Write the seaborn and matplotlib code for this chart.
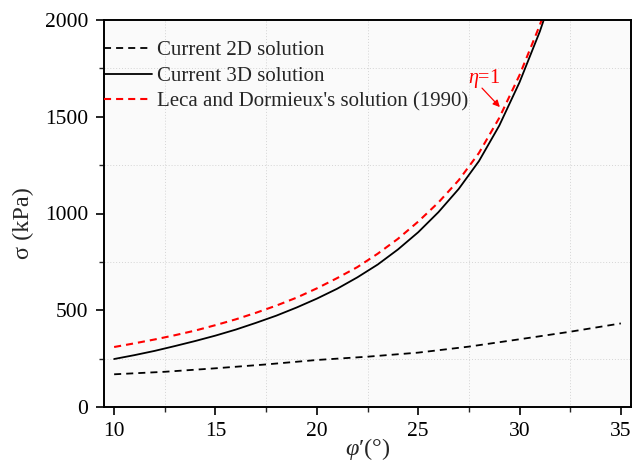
import numpy as np
import pandas as pd
import matplotlib
matplotlib.use("Agg")
import matplotlib.pyplot as plt
import seaborn as sns
from matplotlib.ticker import MultipleLocator

# ---- data ----
phi_2d = [10, 12.5, 15, 17.5, 20, 22.5, 25, 27.5, 30, 32.5, 35]
sig_2d = [169, 182, 200, 220, 243, 260, 281, 312, 350, 389, 432]

phi_3d = [10, 11, 12, 13, 14, 15, 16, 17, 18, 19, 20, 21, 22, 23, 24, 25, 26, 27, 28, 29, 30, 31, 32]
sig_3d = [248, 268, 290, 315, 341, 369, 400, 435, 472, 514, 560, 611, 670, 736, 814, 903, 1007,
          1127, 1271, 1454, 1678, 1940, 2249]

phi_leca = [10, 11, 12, 13, 14, 15, 16, 17, 18, 19, 20, 21, 22, 23, 24, 25, 26, 27, 28, 29, 30, 31, 32]
sig_leca = [310, 329, 349, 371, 395, 423, 453, 487, 524, 565, 613, 666, 723, 792, 869, 958, 1057,
            1172, 1313, 1494, 1715, 1973, 2278]

labels = ["Current 2D solution", "Current 3D solution", "Leca and Dormieux's solution (1990)"]
x_ticks = [10, 15, 20, 25, 30, 35]
y_ticks = [0, 500, 1000, 1500, 2000]

sns.set_style("ticks")
plt.rcParams["font.family"] = ["Liberation Serif", "DejaVu Serif"]
plt.rcParams["mathtext.fontset"] = "custom"
plt.rcParams["mathtext.rm"] = "Liberation Serif"
plt.rcParams["mathtext.it"] = "Liberation Serif:italic"
plt.rcParams["mathtext.bf"] = "Liberation Serif:bold"

fig = plt.figure(figsize=(6.41, 4.62), dpi=100)
ax = fig.add_axes([104 / 641, 1 - 407 / 462, (631 - 104) / 641, (407 - 20) / 462])
ax.set_facecolor("#fafafa")

df2 = pd.DataFrame({"phi": phi_2d, "sig": sig_2d})
df3 = pd.DataFrame({"phi": phi_3d, "sig": sig_3d})
dfl = pd.DataFrame({"phi": phi_leca, "sig": sig_leca})

sns.lineplot(data=df2, x="phi", y="sig", ax=ax, color="black", lw=1.3,
             label=labels[0], linestyle=(0, (3.9, 2.8)))
sns.lineplot(data=df3, x="phi", y="sig", ax=ax, color="black", lw=1.3, label=labels[1])
sns.lineplot(data=dfl, x="phi", y="sig", ax=ax, color="#ff0000", lw=1.5,
             label=labels[2], linestyle=(0, (3.4, 2.4)))

ax.set_xlim(9.5, 35.5)
ax.set_ylim(0, 2000)
ax.set_xticks(x_ticks)
ax.set_yticks(y_ticks)
ax.xaxis.set_minor_locator(MultipleLocator(2.5))
ax.yaxis.set_minor_locator(MultipleLocator(250))
ax.grid(False)
ax.grid(which="minor", color="#d4d4d4", linestyle=(0, (1, 2)), linewidth=0.7)
ax.set_axisbelow(True)

ax.tick_params(axis="both", which="major", direction="out", length=6, width=1.2,
               labelsize=15.5, colors="black", pad=5)
ax.tick_params(axis="y", which="major", pad=5.5)
ax.tick_params(axis="both", which="minor", direction="out", length=3.8, width=1.0)
ax.tick_params(top=False, right=False, which="both")
for s in ax.spines.values():
    s.set_linewidth(1.4)
    s.set_color("black")
    s.set_visible(True)

ax.set_xlabel(r"$\varphi$′(°)", fontsize=17.5, labelpad=-3.5)
ax.set_ylabel("σ (kPa)", fontsize=17.5)
ax.yaxis.set_label_coords(-0.133, 0.475)

leg = ax.legend(loc="upper left", bbox_to_anchor=(0.0, 0.947), frameon=False,
                fontsize=15, handlelength=2.3, handletextpad=0.25,
                labelspacing=0.3, borderpad=0, borderaxespad=0)

ax.text(28.25, 1700, r"$\eta$=1", color="#ff0000", fontsize=14.5,
        ha="center", va="center")
ax.annotate("", xy=(29.03, 1550), xytext=(28.15, 1648),
            arrowprops=dict(arrowstyle="-|>", color="#ff0000", lw=0.9,
                            mutation_scale=10, shrinkA=0, shrinkB=0))

fig.savefig("out.png", dpi=100)
